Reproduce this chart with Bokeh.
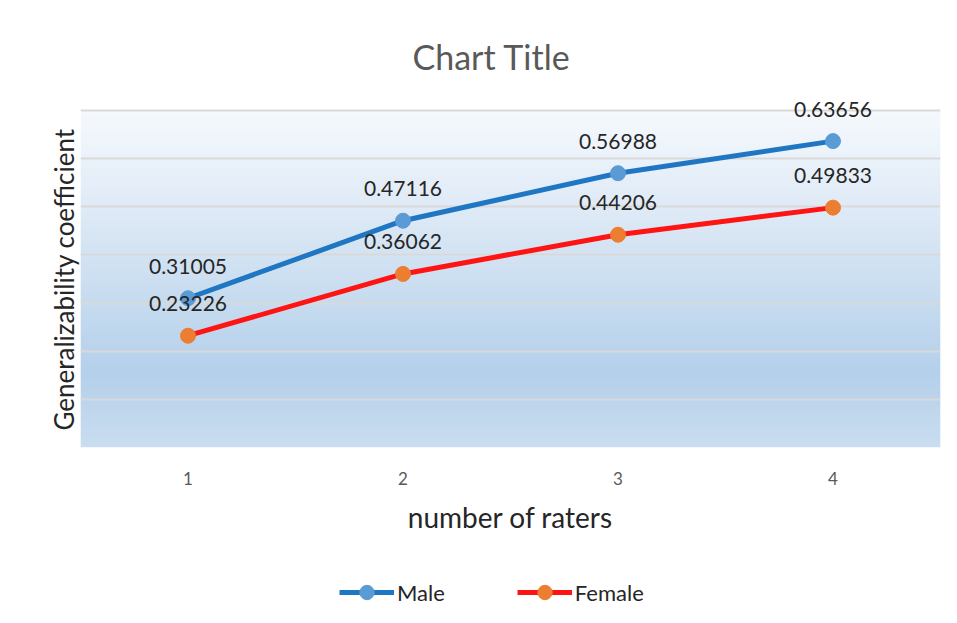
import numpy as np
from bokeh.plotting import figure
from bokeh.layouts import column
from bokeh.models import Range1d, FixedTicker, Legend, LegendItem, ColumnDataSource, Title
from bokeh.core.properties import value
from bokeh.embed import file_html
from bokeh.resources import INLINE

# ---- data ----
raters = [1, 2, 3, 4]
tick_labels = ["1", "2", "3", "4"]
male = [0.31005, 0.47116, 0.56988, 0.63656]
female = [0.23226, 0.36062, 0.44206, 0.49833]
y_ticks = [0.0, 0.1, 0.2, 0.3, 0.4, 0.5, 0.6, 0.7]
series_names = ["Male", "Female"]

FONT = "Lato"
MALE_LINE, MALE_MARK = "#1f77c4", "#5b9bd5"
FEM_LINE, FEM_MARK = "#ff1414", "#ed7d31"
Y_TOP = 0.7

p = figure(width=957, height=560, output_backend="svg", toolbar_location=None,
           x_range=Range1d(0.5, 4.5), y_range=Range1d(0.0, 0.75),
           min_border_left=80, min_border_right=17, min_border_top=86,
           min_border_bottom=113, title="Chart Title")
p.background_fill_color = "white"
p.border_fill_color = "white"
p.outline_line_color = None

# gradient plot-area background (styling only), from 0 to 0.7
n = 120
edges = np.linspace(0.0, Y_TOP, n + 1)
stops_t = [0.0, 0.25, 0.78, 1.0]   # fraction from top
stops_c = [(0xf5, 0xf9, 0xfd), (0xe2, 0xec, 0xf7), (0xb4, 0xd0, 0xea), (0xca, 0xdd, 0xf0)]
cols = []
for i in range(n):
    t = 1.0 - (i + 0.5) / n
    c = [int(round(np.interp(t, stops_t, [s[k] for s in stops_c]))) for k in range(3)]
    cols.append("#%02x%02x%02x" % tuple(c))
tops = list(np.minimum(edges[1:] + 0.0015, Y_TOP))
bg = ColumnDataSource(dict(b=list(edges[:-1]), t=tops, c=cols))
p.quad(left=0.5, right=4.5, bottom="b", top="t", fill_color="c", line_color=None,
       source=bg, level="image")

# grid
p.xgrid.visible = False
p.ygrid.ticker = FixedTicker(ticks=y_ticks)
p.ygrid.grid_line_color = "#d9d9d9"
p.ygrid.grid_line_width = 2

# x axis
p.xaxis.ticker = FixedTicker(ticks=raters)
p.xaxis.major_label_overrides = {r: t for r, t in zip(raters, tick_labels)}
p.xaxis.axis_line_color = None
p.xaxis.major_tick_line_color = None
p.xaxis.minor_tick_line_color = None
p.xaxis.major_label_text_font = FONT
p.xaxis.major_label_text_font_size = "17px"
p.xaxis.major_label_text_color = "#595959"
p.xaxis.major_label_standoff = 18
p.xaxis.axis_label = "number of raters"
p.xaxis.axis_label_text_font = FONT
p.xaxis.axis_label_text_font_style = "normal"
p.xaxis.axis_label_text_font_size = "28px"
p.xaxis.axis_label_text_color = "#262626"
p.xaxis.axis_label_standoff = 12

# y axis: no tick labels in the reference; title only
p.yaxis.visible = False
ytitle = Title(text="Generalizability coefficient", align="left", offset=17,
               text_font=FONT, text_font_style="normal", text_font_size="26px",
               text_color="#262626", standoff=2)
p.add_layout(ytitle, "left")

# chart title
p.title.text_font = FONT
p.title.text_font_style = "normal"
p.title.text_font_size = "34px"
p.title.text_color = "#595959"
p.title.align = "left"
p.title.offset = 332
p.title.standoff = 20

src_m = ColumnDataSource(dict(x=raters, y=male, lab=["%.5f" % v for v in male]))
src_f = ColumnDataSource(dict(x=raters, y=female, lab=["%.5f" % v for v in female]))

p.line("x", "y", source=src_m, line_color=MALE_LINE, line_width=5)
p.scatter("x", "y", source=src_m, size=15, fill_color=MALE_MARK, line_color=MALE_MARK)
p.line("x", "y", source=src_f, line_color=FEM_LINE, line_width=5)
p.scatter("x", "y", source=src_f, size=15, fill_color=FEM_MARK, line_color=FEM_MARK)

for s in (src_m, src_f):
    p.text("x", "y", text="lab", source=s, y_offset=-32, text_align="center",
           text_baseline="middle", text_font_size="21px", text_color="#262626",
           text_font=value(FONT))

# ---- legend strip (separate small figure under the chart) ----
q = figure(width=957, height=63, output_backend="svg", toolbar_location=None,
           x_range=Range1d(100, 101), y_range=Range1d(100, 101),
           x_axis_location=None, y_axis_location=None, min_border=0)
q.outline_line_color = None
q.xgrid.visible = False
q.ygrid.visible = False
qlm = q.line(x=raters, y=male, line_color=MALE_LINE, line_width=5)
qsm = q.scatter(x=raters, y=male, size=14, fill_color=MALE_MARK, line_color=MALE_MARK)
qlf = q.line(x=raters, y=female, line_color=FEM_LINE, line_width=5)
qsf = q.scatter(x=raters, y=female, size=14, fill_color=FEM_MARK, line_color=FEM_MARK)

legend = Legend(items=[LegendItem(label=series_names[0], renderers=[qlm, qsm]),
                       LegendItem(label=series_names[1], renderers=[qlf, qsf])],
                orientation="horizontal", location=(259, 13))
legend.label_text_font = FONT
legend.label_text_font_size = "22px"
legend.label_text_color = "#262626"
legend.glyph_width = 55
legend.glyph_height = 36
legend.label_standoff = 3
legend.spacing = 72
legend.border_line_color = None
legend.background_fill_alpha = 0
legend.margin = 0
legend.padding = 5
q.add_layout(legend)

open("out.html", "w").write(file_html(column(p, q, spacing=0), INLINE))
